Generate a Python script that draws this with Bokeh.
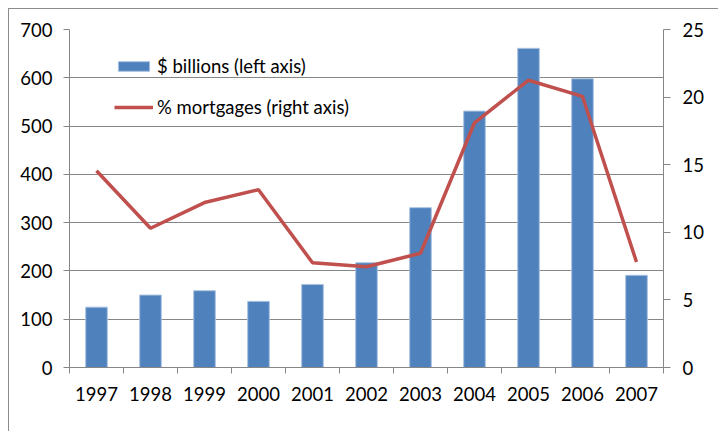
import numpy as np
from bokeh.plotting import figure
from bokeh.models import (Range1d, LinearAxis, FixedTicker,
                          Legend, LegendItem, ColumnDataSource)
from bokeh.embed import file_html
from bokeh.resources import INLINE

years = ["1997", "1998", "1999", "2000", "2001", "2002", "2003", "2004", "2005", "2006", "2007"]
billions = [125, 150, 159, 137, 172, 217, 331, 531, 661, 598, 191]
pct_mortgages = [14.55, 10.3, 12.2, 13.15, 7.75, 7.45, 8.45, 18.1, 21.25, 20.05, 7.8]
left_ticks = [0, 100, 200, 300, 400, 500, 600, 700]
right_ticks = [0, 5, 10, 15, 20, 25]

FONT = "Lato"
FS = "18.5px"
GRID = "#868686"

xs = list(np.arange(len(years)) + 0.5)
src = ColumnDataSource(dict(x=xs, b=billions, m=pct_mortgages))

p = figure(width=710, height=423, output_backend="svg", toolbar_location=None,
           x_range=Range1d(0, len(years)), y_range=Range1d(0, 700),
           min_border_left=60, min_border_right=56, min_border_top=20, min_border_bottom=65)
p.extra_y_ranges = {"right": Range1d(0, 25)}
p.outline_line_color = None
p.background_fill_color = "white"
p.border_fill_color = "white"
p.styles = {"margin-left": "8px", "margin-top": "8px",
            "border-top": "1px solid #8c8c8c", "border-left": "1px solid #8c8c8c"}

bars = p.vbar(x="x", top="b", width=0.4, source=src, fill_color="#4F81BD",
              line_color="#a9c2e0", line_width=1)
line = p.line(x="x", y="m", source=src, y_range_name="right", line_color="#C0504D",
              line_width=3.5)

# x axis
xa = p.xaxis[0]
xa.ticker = FixedTicker(ticks=xs, minor_ticks=list(range(len(years) + 1)))
xa.major_label_overrides = {float(x): y for x, y in zip(xs, years)}
xa.major_tick_out = 0
xa.major_tick_in = 0
xa.minor_tick_out = 6
xa.minor_tick_in = 0
xa.minor_tick_line_color = GRID
xa.axis_line_color = GRID
xa.major_label_standoff = 13
xa.major_label_text_font = FONT
xa.major_label_text_font_size = FS
xa.major_label_text_color = "black"

# left axis
ya = p.yaxis[0]
ya.ticker = FixedTicker(ticks=left_ticks)
ya.major_tick_out = 6
ya.major_tick_in = 0
ya.minor_tick_out = 0
ya.minor_tick_in = 0
ya.major_tick_line_color = GRID
ya.axis_line_color = GRID
ya.major_label_standoff = 11
ya.major_label_text_font = FONT
ya.major_label_text_font_size = FS
ya.major_label_text_color = "black"

# right axis
ra = LinearAxis(y_range_name="right", ticker=FixedTicker(ticks=right_ticks))
ra.major_tick_out = 7
ra.major_tick_in = 0
ra.minor_tick_out = 0
ra.minor_tick_in = 0
ra.major_tick_line_color = GRID
ra.axis_line_color = GRID
ra.major_label_standoff = 12
ra.major_label_text_font = FONT
ra.major_label_text_font_size = FS
ra.major_label_text_color = "black"
p.add_layout(ra, "right")

p.xgrid.grid_line_color = None
p.ygrid.ticker = FixedTicker(ticks=left_ticks)
p.ygrid.grid_line_color = GRID
p.ygrid.grid_line_width = 1

legend = Legend(items=[LegendItem(label="$ billions (left axis)", renderers=[bars]),
                       LegendItem(label="% mortgages (right axis)", renderers=[line])],
                location=(45, 249), padding=0, margin=0, spacing=19,
                glyph_width=39, glyph_height=12, label_height=12, label_standoff=4,
                label_text_font=FONT, label_text_font_size=FS, label_text_color="black",
                border_line_color=None, background_fill_alpha=0)
p.add_layout(legend, "center")

open("out.html", "w").write(file_html(p, INLINE))
